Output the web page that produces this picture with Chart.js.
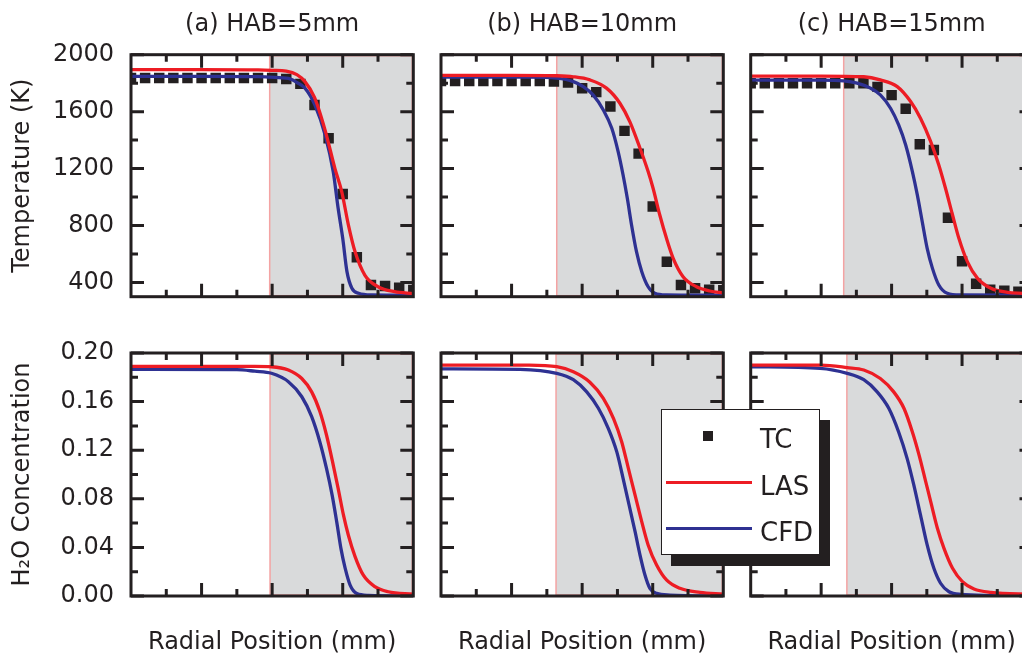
<!DOCTYPE html>
<html>
<head>
<meta charset="utf-8">
<title>Temperature and H2O radial profiles</title>
<script src="https://cdn.jsdelivr.net/npm/chart.js@4.4.1/dist/chart.umd.min.js"></script>
<style>
  html, body { margin: 0; padding: 0; background: #fff; }
  #page { position: relative; width: 1022px; height: 658px; overflow: hidden; }
  #page canvas { position: absolute; }
  .legend {
    position: absolute; left: 660.7px; top: 409.3px; width: 159.3px; height: 145.7px;
    box-sizing: border-box; border: 1px solid #231f20; background: #fff;
    box-shadow: 10px 11px 0 #231f20; z-index: 5;
    font: 26px 'DejaVu Sans', sans-serif; color: #231f20;
  }
  .legend .mark { position: absolute; }
  .legend .lbl { position: absolute; left: 98.3px; line-height: 30px; white-space: nowrap; }
</style>
</head>
<body>
<div id="page"></div>
<script>
// radial positions of the thermocouple points (mm scale of the plot, 0..8)
const tcRadial = [0, 0.4, 0.8, 1.2, 1.6, 2.0, 2.4, 2.8, 3.2, 3.6, 4.0, 4.4, 4.8, 5.2, 5.6, 6.0, 6.4, 6.8, 7.2, 7.6, 8.0];

// TC temperatures (K)
const tcA = [1836, 1836, 1836, 1836, 1836, 1836, 1836, 1836, 1836, 1836, 1836, 1830, 1795, 1647, 1413, 1022, 577, 382, 375, 363, 347];
const tcB = [1815, 1815, 1815, 1815, 1815, 1815, 1815, 1815, 1811, 1804, 1765, 1737, 1636, 1465, 1305, 933, 546, 382, 359, 349, 345];
const tcC = [1800, 1800, 1800, 1800, 1800, 1800, 1800, 1800, 1800, 1774, 1716, 1621, 1371, 1331, 855, 549, 391, 349, 342, 335, 330];

// LAS / CFD temperature profiles [radial, K]
const lasTempA = [[0, 1895], [2, 1895], [3.6, 1893], [4.0, 1890], [4.4, 1884], [4.7, 1860], [4.93, 1811], [5.2, 1700], [5.5, 1470], [5.78, 1200], [5.97, 1040], [6.16, 805], [6.35, 615], [6.63, 450], [7.0, 370], [7.47, 335], [8, 322]];
const cfdTempA = [[0, 1848], [2, 1848], [3.6, 1846], [3.94, 1842], [4.46, 1833], [4.7, 1805], [4.93, 1765], [5.21, 1647], [5.5, 1437], [5.73, 1179], [5.87, 921], [6.0, 710], [6.12, 476], [6.26, 359], [6.45, 324], [6.83, 312], [8, 310]];
const lasTempB = [[0, 1855], [2, 1855], [3.28, 1852], [3.75, 1845], [4.22, 1823], [4.69, 1765], [5.07, 1659], [5.35, 1530], [5.64, 1343], [5.87, 1179], [6.01, 1062], [6.2, 874], [6.39, 710], [6.58, 570], [6.86, 441], [7.24, 370], [7.62, 340], [8, 326]];
const cfdTempB = [[0, 1842], [2.5, 1842], [3.28, 1835], [3.75, 1811], [4.03, 1776], [4.31, 1718], [4.6, 1612], [4.84, 1483], [5.02, 1319], [5.16, 1155], [5.28, 991], [5.4, 804], [5.54, 616], [5.69, 476], [5.87, 370], [6.06, 324], [6.39, 312], [8, 310]];
const lasTempC = [[0, 1850], [2, 1850], [3.21, 1845], [3.68, 1823], [4.16, 1776], [4.54, 1671], [4.82, 1554], [5.11, 1390], [5.34, 1226], [5.53, 1062], [5.73, 874], [5.91, 710], [6.15, 546], [6.44, 429], [6.82, 359], [7.29, 331], [7.73, 324], [8, 320]];
const cfdTempC = [[0, 1822], [2, 1822], [2.64, 1816], [3.02, 1800], [3.4, 1765], [3.68, 1718], [3.97, 1624], [4.2, 1507], [4.4, 1366], [4.59, 1179], [4.73, 1015], [4.87, 827], [5.01, 640], [5.16, 499], [5.34, 382], [5.58, 324], [5.96, 312], [8, 310]];

// LAS / CFD H2O mole fraction profiles [radial, X]
const lasH2oA = [[0, 0.189], [3.5, 0.189], [3.98, 0.1887], [4.46, 0.186], [4.84, 0.179], [5.12, 0.168], [5.35, 0.152], [5.54, 0.1325], [5.73, 0.108], [5.87, 0.0886], [6.02, 0.0667], [6.16, 0.05], [6.35, 0.0324], [6.58, 0.0173], [6.91, 0.0077], [7.29, 0.0035], [8, 0.0015]];
const cfdH2oA = [[0, 0.1865], [3, 0.1863], [3.51, 0.185], [3.98, 0.1833], [4.46, 0.1764], [4.84, 0.164], [5.12, 0.1476], [5.35, 0.127], [5.54, 0.105], [5.7, 0.083], [5.83, 0.061], [5.95, 0.039], [6.07, 0.0228], [6.21, 0.009], [6.4, 0.002], [6.73, 0.0005], [8, 0]];
const lasH2oB = [[0, 0.19], [2.5, 0.19], [3.28, 0.1887], [3.75, 0.1846], [4.22, 0.176], [4.6, 0.1627], [4.89, 0.146], [5.12, 0.127], [5.31, 0.105], [5.5, 0.083], [5.69, 0.061], [5.87, 0.042], [6.11, 0.0255], [6.39, 0.0132], [6.77, 0.0063], [7.34, 0.003], [8, 0.0015]];
const cfdH2oB = [[0, 0.187], [2.24, 0.1866], [3.28, 0.1833], [3.75, 0.178], [4.13, 0.168], [4.46, 0.1545], [4.74, 0.138], [4.98, 0.1188], [5.16, 0.0969], [5.33, 0.0749], [5.5, 0.0529], [5.64, 0.0337], [5.78, 0.0173], [5.92, 0.0063], [6.11, 0.0022], [6.49, 0.0008], [8, 0]];
const lasH2oC = [[0, 0.19], [2, 0.19], [2.74, 0.188], [3.21, 0.186], [3.68, 0.179], [4.06, 0.168], [4.35, 0.1545], [4.59, 0.135], [4.78, 0.116], [4.97, 0.094], [5.11, 0.0776], [5.3, 0.0557], [5.49, 0.039], [5.73, 0.0228], [6.01, 0.0118], [6.34, 0.0058], [6.82, 0.003], [8, 0.0015]];
const cfdH2oC = [[0, 0.1887], [1.97, 0.1874], [2.74, 0.1833], [3.21, 0.178], [3.59, 0.168], [3.92, 0.1545], [4.2, 0.135], [4.44, 0.1133], [4.63, 0.0914], [4.82, 0.0667], [5.01, 0.042], [5.2, 0.0228], [5.39, 0.0105], [5.63, 0.0035], [5.96, 0.0014], [8, 0]];

// start of the shaded (grey) zone, per panel a/b/c
const shadeTemp = [3.93, 3.28, 2.64];
const shadeH2o = [3.94, 3.26, 2.73];

// axis ticks
const xMajor = [2, 4, 6];
const xMinor = [1, 3, 5, 7];
const tempTicks = [400, 800, 1200, 1600, 2000];
const tempMinor = [600, 1000, 1400, 1800];
const h2oTicks = [0, 0.04, 0.08, 0.12, 0.16, 0.2];
const h2oMinor = [0.02, 0.06, 0.1, 0.14, 0.18];

const titles = ['(a) HAB=5mm', '(b) HAB=10mm', '(c) HAB=15mm'];

const INK = '#231f20', RED = '#ed1c24', BLUE = '#2e3192';
const SHADE = '#d9dadb', SHADE_EDGE = '#f4a3a3';

Chart.defaults.font.family = "'DejaVu Sans', sans-serif";
Chart.defaults.font.size = 24;
Chart.defaults.color = INK;

const toXY = pts => pts.map(p => ({ x: p[0], y: p[1] }));

// grey zone behind the curves
const shadeZone = {
    id: 'shadeZone',
    beforeDatasetsDraw(chart, args, o) {
        const { ctx, chartArea: a, scales: { x } } = chart;
        const x0 = x.getPixelForValue(o.from);
        ctx.save();
        ctx.fillStyle = SHADE;
        ctx.fillRect(x0, a.top, a.right - x0, a.height);
        ctx.strokeStyle = SHADE_EDGE;
        ctx.lineWidth = 1.5;
        ctx.strokeRect(x0, a.top + 1, a.right - x0 - 1, a.height - 2);
        ctx.restore();
    }
};

// box frame with inward ticks on all four sides
const frameTicks = {
    id: 'frameTicks',
    afterDatasetsDraw(chart, args, o) {
        const { ctx, chartArea: a, scales: { x, y } } = chart;
        ctx.save();
        ctx.strokeStyle = INK;
        ctx.lineWidth = 3;
        ctx.beginPath();
        const xt = (vals, len) => vals.forEach(v => {
            const px = x.getPixelForValue(v);
            ctx.moveTo(px, a.bottom); ctx.lineTo(px, a.bottom - len);
            ctx.moveTo(px, a.top); ctx.lineTo(px, a.top + len);
        });
        const yt = (vals, len) => vals.forEach(v => {
            const py = y.getPixelForValue(v);
            ctx.moveTo(a.left, py); ctx.lineTo(a.left + len, py);
            ctx.moveTo(a.right, py); ctx.lineTo(a.right - len, py);
        });
        xt(o.xMajor, 13); xt(o.xMinor, 7);
        yt(o.yMajor, 13); yt(o.yMinor, 7);
        ctx.stroke();
        ctx.strokeRect(a.left, a.top, a.width, a.height);
        ctx.restore();
    }
};

const cols = [
    { left: 0, width: 425, yw: 131, padR: 11.7 },
    { left: 430, width: 305, yw: 11, padR: 11.7 },
    { left: 740, width: 305, yw: 10.7, padR: 12.5 }
];
const rows = [
    { top: 0, height: 320, padTop: 0, xh: 23.3, min: 300, max: 2000, ticks: tempTicks, minor: tempMinor,
      fmt: v => String(v), yTitle: 'Temperature (K)', shade: shadeTemp,
      tc: [tcA, tcB, tcC], las: [lasTempA, lasTempB, lasTempC], cfd: [cfdTempA, cfdTempB, cfdTempC] },
    { top: 330, height: 328, padTop: 23, xh: 62, min: 0, max: 0.2, ticks: h2oTicks, minor: h2oMinor,
      fmt: v => v.toFixed(2), yTitle: 'H\u2082O Concentration', shade: shadeH2o,
      tc: null, las: [lasH2oA, lasH2oB, lasH2oC], cfd: [cfdH2oA, cfdH2oB, cfdH2oC] }
];

const page = document.getElementById('page');

rows.forEach((row, r) => {
    cols.forEach((col, c) => {
        const canvas = document.createElement('canvas');
        canvas.width = col.width;
        canvas.height = row.height;
        canvas.style.left = col.left + 'px';
        canvas.style.top = row.top + 'px';
        page.appendChild(canvas);

        const datasets = [
            { label: 'LAS', data: toXY(row.las[c]), borderColor: RED, borderWidth: 3.3, pointRadius: 0,
              cubicInterpolationMode: 'monotone', order: 1 },
            { label: 'CFD', data: toXY(row.cfd[c]), borderColor: BLUE, borderWidth: 3.3, pointRadius: 0,
              cubicInterpolationMode: 'monotone', order: 2 }
        ];
        if (row.tc) {
            datasets.push({
                label: 'TC', data: tcRadial.map((v, i) => ({ x: v, y: row.tc[c][i] })),
                showLine: false, pointStyle: 'rect', pointRadius: 7.4, pointBorderWidth: 0,
                pointBackgroundColor: INK, clip: 0, order: 3
            });
        }

        new Chart(canvas, {
            type: 'line',
            data: { datasets },
            options: {
                responsive: false,
                animation: false,
                events: [],
                layout: { padding: { left: 0, right: col.padR, top: row.padTop, bottom: 0 } },
                plugins: {
                    legend: { display: false },
                    tooltip: { enabled: false },
                    title: {
                        display: r === 0,
                        text: titles[c],
                        fullSize: false,
                        color: INK,
                        font: { size: 24, weight: 'normal' },
                        padding: { top: 10.6, bottom: 15.3 }
                    },
                    shadeZone: { from: row.shade[c] },
                    frameTicks: { xMajor, xMinor, yMajor: row.ticks, yMinor: row.minor }
                },
                scales: {
                    x: {
                        type: 'linear', min: 0, max: 8,
                        grid: { display: false, drawTicks: false },
                        border: { display: false },
                        ticks: { display: false },
                        title: {
                            display: r === 1,
                            text: 'Radial Position (mm)',
                            color: INK,
                            font: { size: 24 },
                            padding: { top: 0, bottom: 0.6 }
                        },
                        afterFit: s => { s.height = row.xh; }
                    },
                    y: {
                        type: 'linear', min: row.min, max: row.max,
                        grid: { display: false, drawTicks: false },
                        border: { display: false },
                        afterBuildTicks: s => { s.ticks = row.ticks.map(v => ({ value: v })); },
                        ticks: { display: c === 0, padding: 17, color: INK, callback: v => row.fmt(v) },
                        title: {
                            display: c === 0,
                            text: row.yTitle,
                            color: INK,
                            font: { size: 24 },
                            padding: { top: 8, bottom: 0 }
                        },
                        afterFit: s => {
                            s.width = col.yw;
                            // labels may overhang the plot box; keep every panel's box the same
                            s.paddingTop = 0;
                            s.paddingBottom = 0;
                        }
                    }
                }
            },
            plugins: [shadeZone, frameTicks]
        });
    });
});

// legend box shared by the panels
const legendItems = [
    { label: 'TC', kind: 'square', color: INK },
    { label: 'LAS', kind: 'line', color: RED },
    { label: 'CFD', kind: 'line', color: BLUE }
];
const legend = document.createElement('div');
legend.className = 'legend';
legendItems.forEach((it, i) => {
    const cy = 25.7 + i * 46.5;
    const mark = document.createElement('div');
    mark.className = 'mark';
    mark.style.background = it.color;
    if (it.kind === 'square') {
        Object.assign(mark.style, { left: '41px', top: (cy - 5.2) + 'px', width: '10.5px', height: '10.5px' });
    } else {
        Object.assign(mark.style, { left: '4.3px', top: (cy - 1.5) + 'px', width: '85.7px', height: '3px' });
    }
    const lbl = document.createElement('div');
    lbl.className = 'lbl';
    lbl.textContent = it.label;
    lbl.style.top = (cy + 3 - 14.5) + 'px';
    legend.appendChild(mark);
    legend.appendChild(lbl);
});
page.appendChild(legend);
</script>
</body>
</html>
